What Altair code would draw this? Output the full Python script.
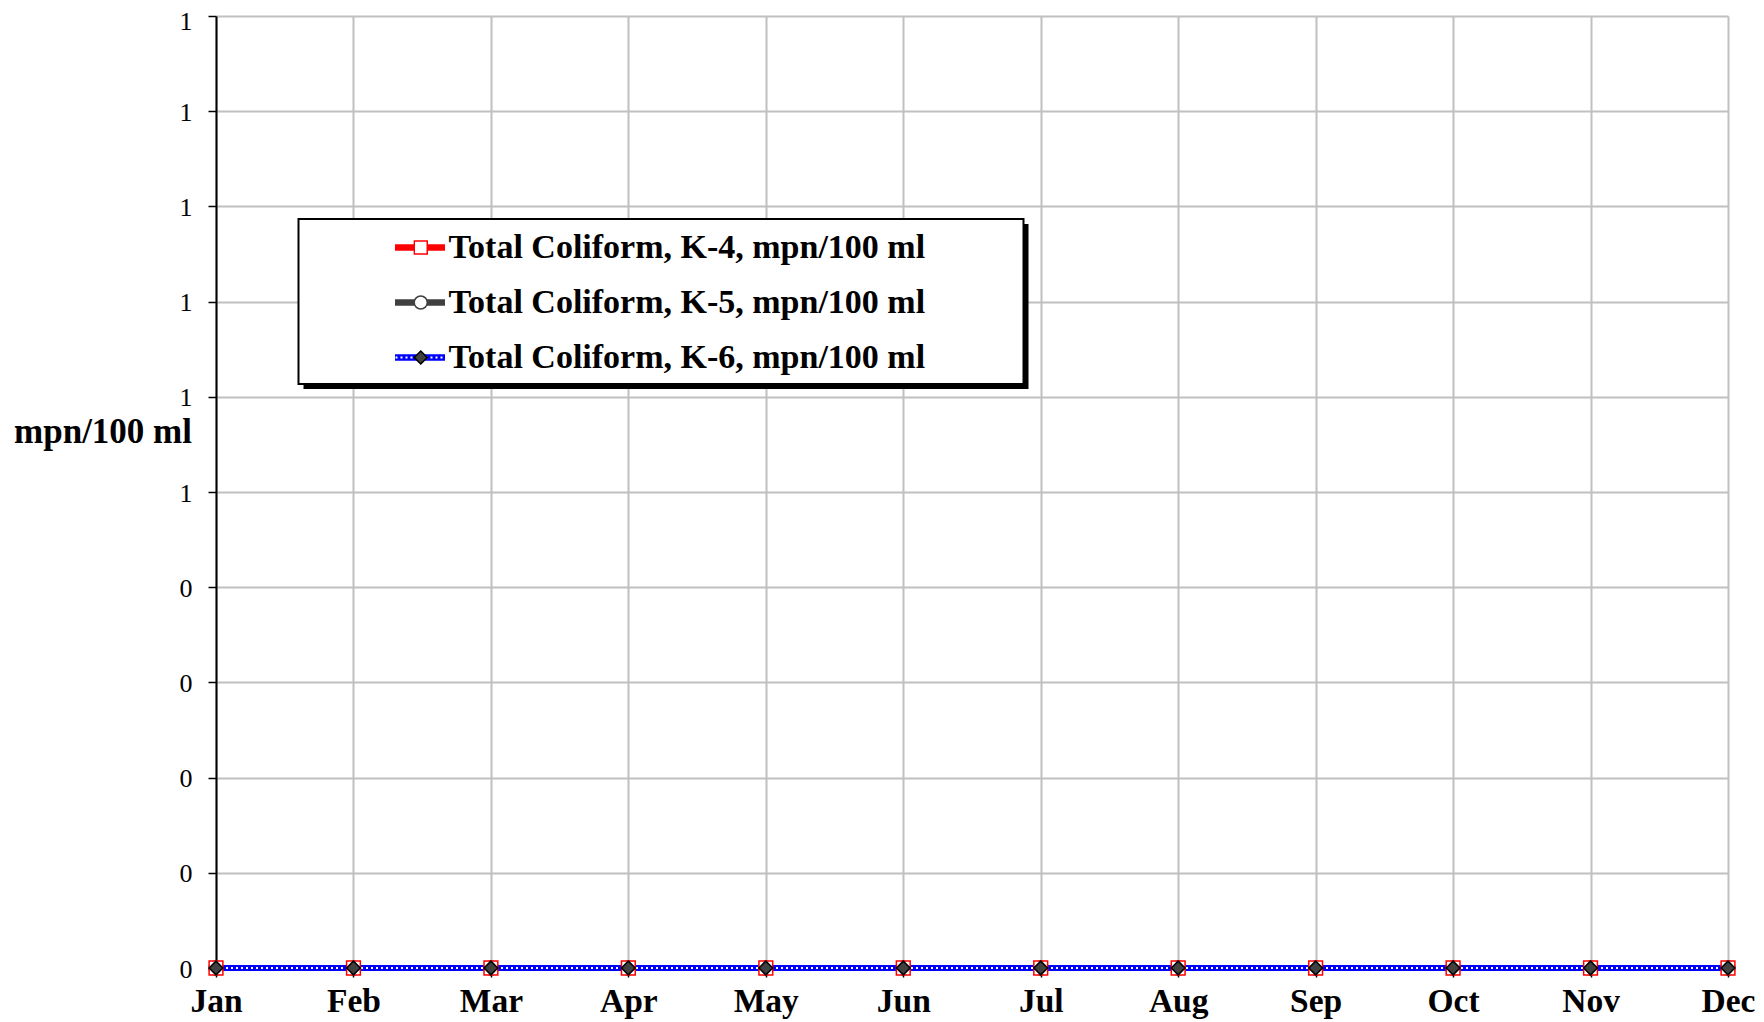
import altair as alt
import pandas as pd

months = ["Jan", "Feb", "Mar", "Apr", "May", "Jun", "Jul", "Aug", "Sep", "Oct", "Nov", "Dec"]
k4 = [0, 0, 0, 0, 0, 0, 0, 0, 0, 0, 0, 0]
k5 = [0, 0, 0, 0, 0, 0, 0, 0, 0, 0, 0, 0]
k6 = [0, 0, 0, 0, 0, 0, 0, 0, 0, 0, 0, 0]
series_names = [
    "Total Coliform, K-4, mpn/100 ml",
    "Total Coliform, K-5, mpn/100 ml",
    "Total Coliform, K-6, mpn/100 ml",
]
y_ticks = [0, 0.1, 0.2, 0.3, 0.4, 0.5, 0.6, 0.7, 0.8, 0.9, 1.0]
y_title = "mpn/100 ml"

line_colors = ["#ff0000", "#404040", "#0000ff"]
marker_shapes = ["square", "circle", "diamond"]
marker_fills = ["#ffffff", "#ffffff", "#404040"]
marker_strokes = ["#ff0000", "#404040", "#000000"]

# separate keys for the marker / dotted legends so they are not merged with the line legend
marker_keys = [n + " (marker)" for n in series_names]
dash_keys = [n + " (dots)" for n in series_names]

rows = []
for name, mk, dk, vals in zip(series_names, marker_keys, dash_keys, [k4, k5, k6]):
    for m, v in zip(months, vals):
        rows.append({"month": m, "value": v, "series": name, "series2": mk, "series3": dk})
df = pd.DataFrame(rows)
# draw order of markers: K-5 under K-4 under K-6
df_points = pd.concat([df[df.series == series_names[1]], df[df.series == series_names[0]],
                       df[df.series == series_names[2]]])
df_dash = df[df.series == series_names[2]]

SERIF = "Liberation Serif"

x_enc = alt.X(
    "month:N", sort=months,
    scale=alt.Scale(type="point", padding=0),
    axis=alt.Axis(
        title=None, labelAngle=0, labelFont=SERIF, labelFontSize=33.5, labelFontWeight="bold",
        labelColor="black", labelPadding=8.5, tickSize=9, tickColor="black", tickWidth=1.5,
        domainColor="black", domainWidth=2, grid=True, gridColor="#c0c0c0", gridWidth=2,
    ),
)
y_enc = alt.Y(
    "value:Q",
    scale=alt.Scale(domain=[0, 1], nice=False),
    axis=alt.Axis(
        values=y_ticks, format=".0f", labelFont=SERIF, labelFontSize=26, labelColor="black",
        labelPadding=16, tickSize=8, tickColor="black", tickWidth=1.5,
        labelOffset={"condition": {"test": "datum.value >= 1", "value": 5}, "value": 1},
        domainColor="black", domainWidth=2, grid=True, gridColor="#c0c0c0", gridWidth=2,
        title=y_title, titleAngle=0, titleAlign="right", titleBaseline="alphabetic",
        titleX=-24.5, titleY=426, titleFont=SERIF, titleFontSize=35, titleFontWeight="bold",
        titleColor="black",
    ),
)

one = alt.Data(values=[{"k": 0}])
shadow = alt.Chart(one).mark_rect(color="black").encode(
    x=alt.value(87.5), x2=alt.value(812.5), y=alt.value(208), y2=alt.value(373)
)
box = alt.Chart(one).mark_rect(fill="white", stroke="black", strokeWidth=2).encode(
    x=alt.value(82.5), x2=alt.value(807.5), y=alt.value(203), y2=alt.value(368)
)

lines = alt.Chart(df).mark_line(strokeWidth=6).encode(
    x=x_enc, y=y_enc,
    color=alt.Color(
        "series:N", scale=alt.Scale(domain=series_names, range=line_colors),
        legend=alt.Legend(
            orient="none", legendX=175.5, legendY=204, title=None, symbolType="stroke",
            symbolSize=2500, symbolStrokeWidth=6.5, labelFont=SERIF, labelFontSize=34,
            labelFontWeight="bold", labelColor="black", labelOffset=0, labelLimit=1000,
            clipHeight=55, rowPadding=0, padding=0,
        ),
    ),
)

dash = alt.Chart(df_dash).mark_line(color="white", strokeWidth=2).encode(
    x=x_enc, y=y_enc,
    strokeDash=alt.StrokeDash(
        "series3:N", scale=alt.Scale(domain=[dash_keys[2]], range=[[2, 3]]),
        legend=alt.Legend(
            orient="none", legendX=178.5, legendY=314, title=None, symbolType="stroke",
            symbolSize=2500, symbolStrokeWidth=2, symbolStrokeColor="white",
            labelExpr="''", clipHeight=55, rowPadding=0, padding=0,
        ),
    ),
)

pt_legend = alt.Legend(
    orient="none", legendX=197.25, legendY=204, title=None, symbolSize=170,
    symbolStrokeWidth=1.5, labelExpr="''", clipHeight=55, rowPadding=0, padding=0,
)
points = alt.Chart(df_points).mark_point(filled=True, size=190, strokeWidth=1.5, opacity=1).encode(
    x=x_enc, y=y_enc,
    shape=alt.Shape("series2:N", scale=alt.Scale(domain=marker_keys, range=marker_shapes), legend=pt_legend),
    fill=alt.Fill("series2:N", scale=alt.Scale(domain=marker_keys, range=marker_fills), legend=pt_legend),
    stroke=alt.Stroke("series2:N", scale=alt.Scale(domain=marker_keys, range=marker_strokes), legend=pt_legend),
)

chart = alt.layer(shadow, box, lines, dash, points).properties(
    width=1512, height=952,
    padding={"left": 208, "top": 8, "right": 28, "bottom": 54},
    autosize=alt.AutoSizeParams(type="none"),
).configure_view(stroke="#8c8c8c", strokeWidth=2).configure(background="white")

chart.save("out.html", embed_options={"renderer": "svg", "actions": False})
